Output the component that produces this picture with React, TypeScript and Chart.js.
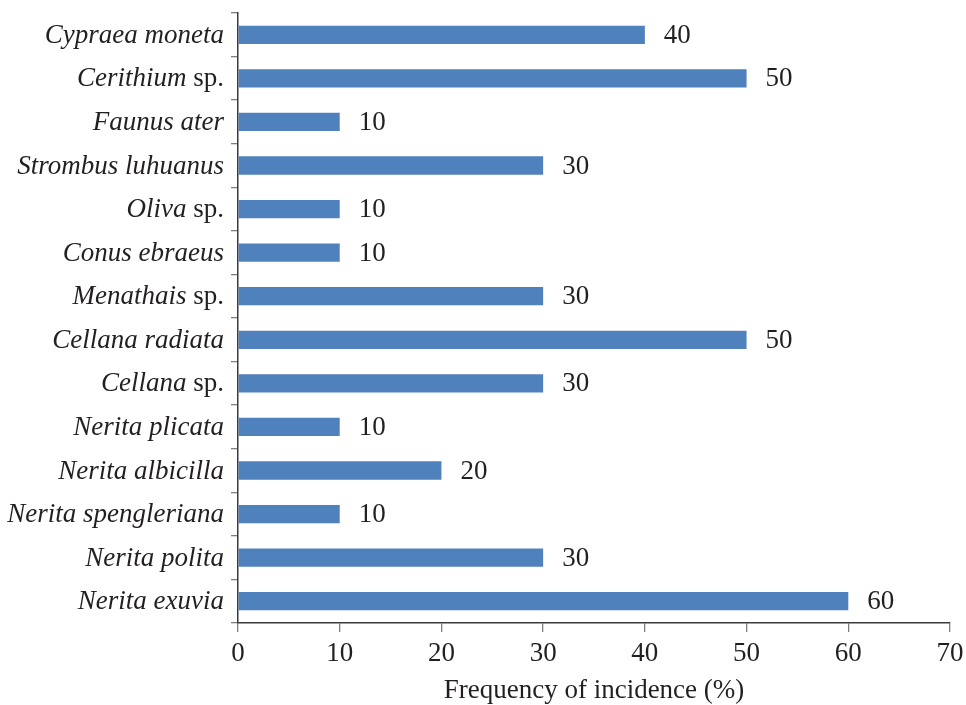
import { useEffect, useRef } from "react";
import { Chart, registerables } from "chart.js";

Chart.register(...registerables);

const categories = [
  "Cypraea moneta",
  "Cerithium sp.",
  "Faunus ater",
  "Strombus luhuanus",
  "Oliva sp.",
  "Conus ebraeus",
  "Menathais sp.",
  "Cellana radiata",
  "Cellana sp.",
  "Nerita plicata",
  "Nerita albicilla",
  "Nerita spengleriana",
  "Nerita polita",
  "Nerita exuvia",
];
const frequencies = [40, 50, 10, 30, 10, 10, 30, 50, 30, 10, 20, 10, 30, 60];
const xMin = 0;
const xMax = 70;
const xStep = 10;
const xTitle = "Frequency of incidence (%)";

const FONT = "'Liberation Serif', 'Times New Roman', serif";
const TEXT = "#231f20";
const BAR = "#4f81bd";
const AXIS = "#3a3a3a";
const TICK = "#7f7f7f";
const FS = 27;

const labelsPlugin = {
  id: "customLabels",
  afterDraw(chart: any) {
    const ctx = chart.ctx;
    const ys = chart.scales.y;
    ctx.save();
    ctx.fillStyle = TEXT;
    ctx.textBaseline = "middle";
    ctx.textAlign = "left";
    categories.forEach((c, i) => {
      const py = ys.getPixelForTick(i);
      let it = c;
      let norm = "";
      if (c.endsWith(" sp.")) {
        it = c.slice(0, -4);
        norm = " sp.";
      }
      ctx.font = `italic ${FS}px ${FONT}`;
      const w1 = ctx.measureText(it).width;
      ctx.font = `${FS}px ${FONT}`;
      const w2 = norm ? ctx.measureText(norm).width : 0;
      const right = ys.right - 14;
      const start = right - w1 - w2;
      ctx.font = `italic ${FS}px ${FONT}`;
      ctx.fillText(it, start, py + 1);
      if (norm) {
        ctx.font = `${FS}px ${FONT}`;
        ctx.fillText(norm, start + w1, py + 1);
      }
    });
    const meta = chart.getDatasetMeta(0);
    ctx.font = `${FS}px ${FONT}`;
    meta.data.forEach((bar: any, i: number) => {
      ctx.fillText(String(frequencies[i]), bar.x + 19, bar.y + 1);
    });
    ctx.restore();
  },
};

export default function App() {
  const ref = useRef<HTMLCanvasElement>(null);
  useEffect(() => {
    if (!ref.current) return;
    const chart = new Chart(ref.current, {
      type: "bar",
      data: {
        labels: categories,
        datasets: [
          {
            data: frequencies,
            backgroundColor: BAR,
            borderWidth: 0,
            barPercentage: 0.42,
            categoryPercentage: 1,
          },
        ],
      },
      options: {
        indexAxis: "y",
        responsive: false,
        animation: false,
        layout: { padding: { top: 13, right: 16, left: 0, bottom: 0 } },
        plugins: { legend: { display: false }, tooltip: { enabled: false } },
        scales: {
          y: {
            afterFit: (s: any) => {
              s.width = 238;
              s.paddingTop = 0;
              s.paddingBottom = 0;
            },
            ticks: { display: false },
            grid: {
              drawOnChartArea: false,
              drawTicks: true,
              tickLength: 7,
              color: TICK,
              lineWidth: 1.3,
              offset: true,
            },
            border: { display: true, color: AXIS, width: 1.5 },
          },
          x: {
            min: xMin,
            max: xMax,
            afterFit: (s: any) => {
              s.height = 82;
              s.paddingLeft = 0;
              s.paddingRight = 0;
            },
            ticks: {
              stepSize: xStep,
              color: TEXT,
              font: { family: FONT, size: FS },
              padding: 6,
              maxRotation: 0,
            },
            grid: {
              drawOnChartArea: false,
              drawTicks: true,
              tickLength: 9,
              color: TICK,
              lineWidth: 1.3,
            },
            border: { display: true, color: AXIS, width: 1.5 },
            title: {
              display: true,
              text: xTitle,
              color: TEXT,
              font: { family: FONT, size: FS },
              padding: { top: 0, bottom: -2 },
            },
          },
        },
      },
      plugins: [labelsPlugin],
    } as any);
    return () => chart.destroy();
  }, []);
  return (
    <div style={{ position: "absolute", left: 0, top: 0, width: 966, height: 705 }}>
      <canvas ref={ref} width={966} height={705} style={{ display: "block" }} />
    </div>
  );
}
